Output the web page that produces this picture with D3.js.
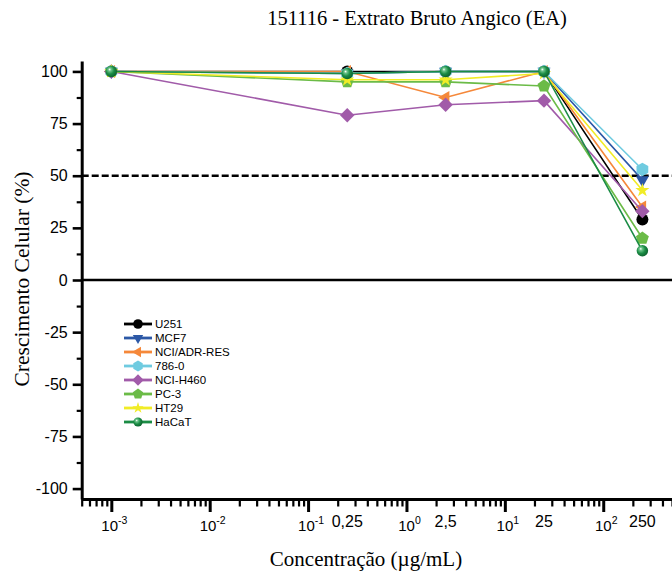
<!DOCTYPE html>
<html>
<head>
<meta charset="utf-8">
<script src="https://cdn.jsdelivr.net/npm/d3@7"></script>
<style>
  body { margin: 0; background: #fff; }
  svg { display: block; }
</style>
</head>
<body>
<script>
/* ---------------------------------- data ---------------------------------- */
const concentrations = [0.001, 0.25, 2.5, 25, 250]
const doseLabels = ["0,25", "2,5", "25", "250"]
const seriesNames = ["U251", "MCF7", "NCI/ADR-RES", "786-0", "NCI-H460", "PC-3", "HT29", "HaCaT"]
const u251 = [100, 100, 100, 100, 29]
const mcf7 = [100, 99, 100, 100, 48]
const nciAdr = [100, 100, 87.5, 100, 35]
const r7860 = [100, 99, 100, 100, 53]
const nciH460 = [100, 79, 84, 86, 33]
const pc3 = [100, 95, 95, 93, 20]
const ht29 = [100, 96, 96, 99, 43]
const hacat = [100, 99, 100, 100, 14]
const yTicks = [-100, -75, -50, -25, 0, 25, 50, 75, 100]
const xDecades = [-3, -2, -1, 0, 1, 2]

const allSeries = [u251, mcf7, nciAdr, r7860, nciH460, pc3, ht29, hacat]
const colors = ["#000000", "#2c58a6", "#f5883a", "#6fcbe0", "#a15ba9", "#6bbb47", "#f1ec26", "#1b8c45"]
const shapes = ["circle", "down", "left", "hexagon", "diamond", "pentagon", "star", "sphere"]

/* -------------------------- define document size -------------------------- */
const width = 672, height = 576

const svg = d3.select("body").append("svg")
    .attr("width", width)
    .attr("height", height)

const x = d3.scaleLog().domain([5e-4, 500]).range([81.7, 672])
const y = d3.scaleLinear().domain([-105, 105]).range([499, 61])

/* ------------------------------ sphere gradient ----------------------------- */
const grad = svg.append("defs").append("radialGradient")
    .attr("id", "sphere").attr("cx", "40%").attr("cy", "40%").attr("r", "60%")
    .attr("fx", "35%").attr("fy", "32%")
grad.append("stop").attr("offset", "0%").attr("stop-color", "#ffffff")
grad.append("stop").attr("offset", "22%").attr("stop-color", "#6cc48a")
grad.append("stop").attr("offset", "60%").attr("stop-color", "#1b8c45")
grad.append("stop").attr("offset", "100%").attr("stop-color", "#0e6530")

/* ----------------------------- marker shapes ------------------------------ */
function poly(n, r, rot) {
    var pts = []
    for (var i = 0; i < n; i++) {
        var a = rot + i * 2 * Math.PI / n
        pts.push([r * Math.sin(a), -r * Math.cos(a)])
    }
    return "M" + pts.map(p => p[0].toFixed(2) + "," + p[1].toFixed(2)).join("L") + "Z"
}

function markerPath(shape, s) {
    switch (shape) {
        case "circle": return d3.symbol(d3.symbolCircle, Math.PI * 36 * s * s)()
        case "sphere": return d3.symbol(d3.symbolCircle, Math.PI * 33 * s * s)()
        case "down": return poly(3, 7.5 * s, Math.PI)
        case "left": return poly(3, 7.5 * s, -Math.PI / 2)
        case "hexagon": return poly(6, 6.8 * s, 0)
        case "diamond": return poly(4, 7.2 * s, 0)
        case "pentagon": return poly(5, 6.8 * s, 0)
        case "star": return d3.symbol(d3.symbolStar, 62 * s * s)()
    }
}

function drawMarker(g, i, cx, cy, s) {
    g.append("path")
        .attr("d", markerPath(shapes[i], s))
        .attr("transform", "translate(" + cx + "," + cy + ")")
        .attr("fill", shapes[i] == "sphere" ? "url(#sphere)" : colors[i])
}

/* --------------------------------- y axis --------------------------------- */
const yMinor = d3.range(-87.5, 100, 25)

svg.append("g")
    .attr("transform", "translate(" + x.range()[0] + ",0)")
    .call(d3.axisLeft(y).tickValues(yMinor).tickSize(5).tickFormat(""))
    .call(g => g.select(".domain").remove())
    .selectAll("line").attr("stroke-width", 2.2)

const yAxis = svg.append("g")
    .attr("transform", "translate(" + x.range()[0] + ",0)")
    .call(d3.axisLeft(y).tickValues(yTicks).tickSize(9).tickSizeOuter(0).tickPadding(5)
        .tickFormat(d => String(d)))
yAxis.select(".domain").attr("stroke-width", 3)
yAxis.selectAll("line").attr("stroke-width", 2.6)
yAxis.selectAll("text").attr("font-family", "Liberation Sans, Arial, sans-serif").attr("font-size", 16).attr("fill", "#000")

/* --------------------------------- x axis --------------------------------- */
var xMinor = []
for (var e = -4; e <= 2; e++) {
    for (var m = 2; m <= 9; m++) {
        var v = m * Math.pow(10, e)
        if (v >= 5e-4 && v <= 500) xMinor.push(v)
    }
}

svg.append("g")
    .attr("transform", "translate(0," + y.range()[0] + ")")
    .call(d3.axisBottom(x).tickValues(xMinor).tickSize(7.5).tickFormat(""))
    .call(g => g.select(".domain").remove())
    .selectAll("line").attr("stroke-width", 2.2)

const xAxis = svg.append("g")
    .attr("transform", "translate(0," + y.range()[0] + ")")
    .call(d3.axisBottom(x).tickValues(xDecades.map(d => Math.pow(10, d))).tickSize(13).tickSizeOuter(0).tickFormat(""))
xAxis.select(".domain").attr("stroke-width", 3)
xAxis.selectAll("line").attr("stroke-width", 3)

const decadeLabels = svg.append("g")
    .attr("font-family", "Liberation Sans, Arial, sans-serif")
    .attr("font-size", 15)
    .attr("text-anchor", "middle")
xDecades.forEach(function(d) {
    var t = decadeLabels.append("text")
        .attr("x", x(Math.pow(10, d)) + 3)
        .attr("y", 531)
    t.append("tspan").text("10")
    t.append("tspan").attr("dy", -7).attr("font-size", 10.5).text(String(d))
})

svg.append("g")
    .attr("font-family", "Liberation Sans, Arial, sans-serif")
    .attr("font-size", 16)
    .attr("text-anchor", "middle")
    .selectAll("text").data(doseLabels).enter().append("text")
    .attr("x", (d, i) => x(concentrations[i + 1]))
    .attr("y", 527)
    .text(d => d)

/* ---------------------------- reference lines ----------------------------- */
svg.append("line")
    .attr("x1", x.range()[0]).attr("x2", x.range()[1])
    .attr("y1", y(50)).attr("y2", y(50))
    .attr("stroke", "#000").attr("stroke-width", 2.6).attr("stroke-dasharray", "7,3")

svg.append("line")
    .attr("x1", x.range()[0]).attr("x2", x.range()[1])
    .attr("y1", y(0)).attr("y2", y(0))
    .attr("stroke", "#000").attr("stroke-width", 2.6)

/* --------------------------------- series --------------------------------- */
const line = d3.line()
    .x((d, i) => x(concentrations[i]))
    .y(d => y(d))

allSeries.forEach(function(values, i) {
    var g = svg.append("g")
    g.append("path")
        .attr("d", line(values))
        .attr("fill", "none")
        .attr("stroke", colors[i])
        .attr("stroke-width", 1.6)
    values.forEach(function(v, j) {
        drawMarker(g, i, x(concentrations[j]), y(v), 1)
    })
})

/* --------------------------------- legend --------------------------------- */
const legend = svg.append("g")
seriesNames.forEach(function(name, i) {
    var ly = 324 + i * 14
    legend.append("line")
        .attr("x1", 124).attr("x2", 152)
        .attr("y1", ly).attr("y2", ly)
        .attr("stroke", colors[i]).attr("stroke-width", 2.8)
    drawMarker(legend, i, 138, ly, 0.8)
    legend.append("text")
        .attr("x", 155).attr("y", ly + 4)
        .attr("font-family", "Liberation Sans, Arial, sans-serif")
        .attr("font-size", 11.5)
        .text(name)
})

/* --------------------------------- titles --------------------------------- */
svg.append("text")
    .attr("x", 417).attr("y", 25)
    .attr("text-anchor", "middle")
    .attr("font-family", "Liberation Serif, Times New Roman, serif")
    .attr("font-size", 20.5)
    .text("151116 - Extrato Bruto Angico (EA)")

svg.append("text")
    .attr("x", 366).attr("y", 566)
    .attr("text-anchor", "middle")
    .attr("font-family", "Liberation Serif, Times New Roman, serif")
    .attr("font-size", 21)
    .text("Concentração (µg/mL)")

svg.append("text")
    .attr("transform", "translate(29,279) rotate(-90)")
    .attr("text-anchor", "middle")
    .attr("font-family", "Liberation Serif, Times New Roman, serif")
    .attr("font-size", 21.5)
    .text("Crescimento Celular (%)")
</script>
</body>
</html>
